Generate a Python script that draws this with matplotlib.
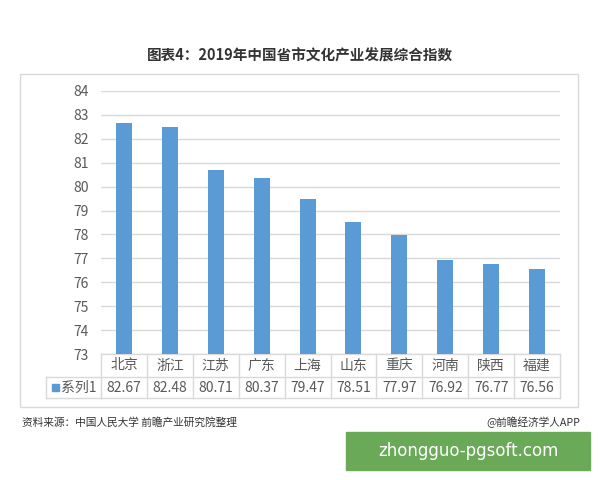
import matplotlib
matplotlib.use("Agg")
import matplotlib.pyplot as plt
import matplotlib.transforms as mtransforms
from matplotlib.patches import Rectangle

plt.rcParams['font.family'] = ['Noto Sans CJK SC', 'DejaVu Sans']

categories = ['北京', '浙江', '江苏', '广东', '上海', '山东', '重庆', '河南', '陕西', '福建']
values = [82.67, 82.48, 80.71, 80.37, 79.47, 78.51, 77.97, 76.92, 76.77, 76.56]
series_name = '系列1'
yticks = list(range(73, 85))
title = '图表4：2019年中国省市文化产业发展综合指数'
source = '资料来源：中国人民大学 前瞻产业研究院整理'
credit = '@前瞻经济学人APP'
banner = 'zhongguo-pgsoft.com'

W, H = 600, 480
BAR = '#5B9BD5'
GRID = '#D9D9D9'
TXT = '#595959'

fig = plt.figure(figsize=(W / 100, H / 100), dpi=100)
px = mtransforms.Affine2D().scale(1 / W, -1 / H).translate(0, 1) + fig.transFigure

# chart frame
fig.patches.append(Rectangle((20, 74), 558, 333, transform=px, fill=False,
                             edgecolor='#D9D9D9', linewidth=1.0))

ax = fig.add_axes([101 / W, 1 - 354 / H, 459 / W, (354 - 91) / H])
x = list(range(len(categories)))
ax.bar(x, values, width=0.35, color=BAR, zorder=3)
ax.set_xlim(-0.5, len(categories) - 0.5)
ax.set_ylim(73, 84)
ax.set_yticks(yticks)
ax.set_yticklabels([str(t) for t in yticks], color=TXT, fontsize=10)
ax.tick_params(axis='y', length=0, pad=9)
ax.set_xticks([])
ax.grid(axis='y', color=GRID, linewidth=1.0, zorder=0)
for s in ax.spines.values():
    s.set_visible(False)

# data table
bt = mtransforms.blended_transform_factory(ax.transData, px)
n = len(categories)
r0, r1, r2 = 354, 377, 398
ax.plot([-0.5, n - 0.5], [r0, r0], transform=bt, color=GRID, lw=1, clip_on=False)
ax.plot([-0.5, n - 0.5], [r2, r2], transform=bt, color=GRID, lw=1, clip_on=False)
for i in range(n + 1):
    ax.plot([i - 0.5, i - 0.5], [r0, r2], transform=bt, color=GRID, lw=1, clip_on=False)
ax.plot([-0.5, n - 0.5], [r1, r1], transform=bt, color=GRID, lw=1, clip_on=False)
for i, (c, v) in enumerate(zip(categories, values)):
    ax.text(i, (r0 + r1) / 2, c, transform=bt, ha='center', va='center',
            fontsize=10, color=TXT)
    ax.text(i, (r1 + r2) / 2, f'{v:.2f}', transform=bt, ha='center', va='center',
            fontsize=10, color=TXT)
# header cell
fig.lines.append(plt.Line2D([46, 101], [r1, r1], transform=px, color=GRID, lw=1))
fig.lines.append(plt.Line2D([46, 101], [r2, r2], transform=px, color=GRID, lw=1))
fig.lines.append(plt.Line2D([46, 46], [r1, r2], transform=px, color=GRID, lw=1))
fig.patches.append(Rectangle((52, 384), 7, 7, transform=px, color=BAR))
fig.text(61 / W, 1 - ((r1 + r2) / 2) / H, series_name, ha='left', va='center',
         fontsize=10, color=TXT)

# title and notes
fig.text(0.5, 1 - 55 / H, title, ha='center', va='center', fontsize=10.5,
         fontweight='bold', color='#333333')
fig.text(22 / W, 1 - 422 / H, source, ha='left', va='center', fontsize=7.7, color='#333333')
fig.text(580 / W, 1 - 422 / H, credit, ha='right', va='center', fontsize=7.7, color='#333333')

# banner
fig.patches.append(Rectangle((346, 432), 244, 38, transform=px, color='#69A957'))
fig.text(468 / W, 1 - 451 / H, banner, ha='center', va='center', fontsize=12,
         color='white', family=['DejaVu Sans'])

fig.savefig('out.png', dpi=100)
